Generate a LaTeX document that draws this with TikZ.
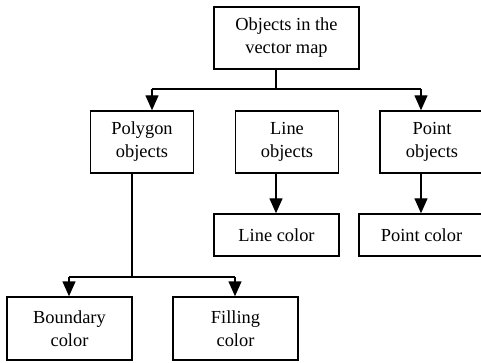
\documentclass[tikz,border=0pt]{standalone}
\usepackage{fontspec}
\setmainfont{Liberation Serif}
\usetikzlibrary{arrows.meta}
\begin{document}
\begin{tikzpicture}[x=1pt,y=-1pt,
  box/.style={draw,line width=1.4pt,align=center,inner sep=0pt,font=\fontsize{18.4}{23}\selectfont},
  conn/.style={line width=1.4pt},
  arr/.style={line width=1.4pt,-{Triangle[width=13pt,length=15pt]}}]
\useasboundingbox (0,0) rectangle (481,363);
\node[box,minimum width=145pt,minimum height=62pt] (top) at (286.5,38) {Objects in the\\vector map};
\node[box,minimum width=103pt,minimum height=62pt] (poly) at (142,142) {Polygon\\objects};
\node[box,minimum width=103pt,minimum height=62pt] (line) at (287,142) {Line\\objects};
\node[box,minimum width=104pt,minimum height=62pt] (pt) at (432,142) {Point\\objects};
\node[box,minimum width=125pt,minimum height=42pt] (lc) at (276.5,235) {Line color};
\node[box,minimum width=125pt,minimum height=42pt] (pc) at (421.5,235) {Point color};
\node[box,minimum width=125pt,minimum height=63pt] (bc) at (69.5,328.5) {Boundary\\color};
\node[box,minimum width=125pt,minimum height=63pt] (fc) at (235.5,328.5) {Filling\\color};
\coordinate (j1) at (276,89);
\coordinate (a1) at (152,89);
\coordinate (a3) at (421,89);
\coordinate (j2) at (132,277);
\coordinate (b1) at (69,277);
\coordinate (b2) at (235,277);
\draw[conn] (top.south -| j1) -- (j1);
\draw[conn] (a1) -- (a3);
\draw[arr] (a1) -- (a1 |- poly.north);
\draw[arr] (a3) -- (a3 |- pt.north);
\draw[arr] (line.south -| j1) -- (j1 |- lc.north);
\draw[arr] (pt.south -| a3) -- (a3 |- pc.north);
\draw[conn] (poly.south -| j2) -- (j2);
\draw[conn] (b1) -- (b2);
\draw[arr] (b1) -- (b1 |- bc.north);
\draw[arr] (b2) -- (b2 |- fc.north);
\end{tikzpicture}
\end{document}
